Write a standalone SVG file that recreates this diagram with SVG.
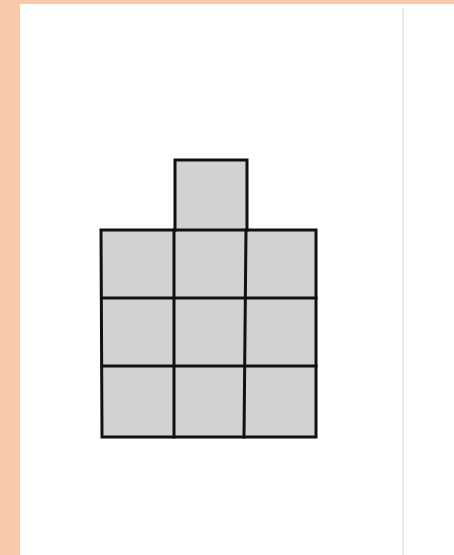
<svg xmlns="http://www.w3.org/2000/svg" width="454" height="555" viewBox="0 0 454 555">
<style>
.cell{fill:#d2d2d2;stroke:none}
.ln{stroke:#111;stroke-width:3;fill:none;stroke-linecap:square}
</style>
<rect x="0" y="0" width="454" height="555" fill="#ffffff"/>
<rect x="0" y="0" width="454" height="4" fill="#f8c9a8"/>
<rect x="0" y="0" width="20" height="555" fill="#f8c9a8"/>
<line x1="403" y1="8" x2="403" y2="555" stroke="#e6e6e6" stroke-width="1.5"/>
<g id="cells">
<rect class="cell" x="175" y="160" width="72" height="70"/>
<rect class="cell" x="102" y="230" width="214" height="207"/>
</g>
<g id="grid">
<path class="ln" d="M175 160 H247 V230 M175 160 V230"/>
<path class="ln" d="M101 230 H316 V437 H102 Z"/>
<path class="ln" d="M102 298 H316 M102 366 H316"/>
<path class="ln" d="M174 230 V437 M246 230 L244 437"/>
</g>
</svg>
